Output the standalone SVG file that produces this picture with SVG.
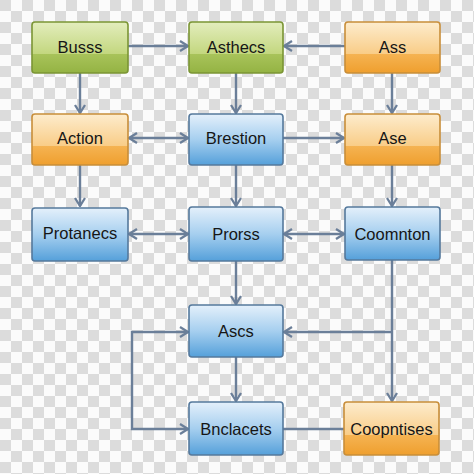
<svg xmlns="http://www.w3.org/2000/svg" width="474" height="474" viewBox="0 0 474 474">
<defs>
<pattern id="chk" x="0" y="0" width="22" height="22" patternUnits="userSpaceOnUse">
<rect width="22" height="22" fill="#fbfbfb"/>
<rect width="11" height="11" fill="#dcdcdc"/>
<rect x="11" y="11" width="11" height="11" fill="#dcdcdc"/>
</pattern>
<linearGradient id="gGreen" x1="0" y1="0" x2="0" y2="1">
<stop offset="0" stop-color="#e3edbd"/>
<stop offset="0.62" stop-color="#c3d77f"/>
<stop offset="0.63" stop-color="#a8c35a"/>
<stop offset="1" stop-color="#94b343"/>
</linearGradient>
<linearGradient id="gOrange" x1="0" y1="0" x2="0" y2="1">
<stop offset="0" stop-color="#fdeccd"/>
<stop offset="0.62" stop-color="#f9cd88"/>
<stop offset="0.63" stop-color="#f5b352"/>
<stop offset="1" stop-color="#ef9f2e"/>
</linearGradient>
<linearGradient id="gBlue" x1="0" y1="0" x2="0" y2="1">
<stop offset="0" stop-color="#e4f0fb"/>
<stop offset="0.5" stop-color="#a6cfef"/>
<stop offset="1" stop-color="#55a0da"/>
</linearGradient>
<marker id="arr" viewBox="0 0 10 12" refX="9" refY="6" markerWidth="10" markerHeight="12" markerUnits="userSpaceOnUse" orient="auto-start-reverse">
<path d="M1,1 L9,6 L1,11" fill="none" stroke="#6b7f99" stroke-width="2.3" stroke-linejoin="miter"/>
</marker>
</defs>
<style>
.green{fill:url(#gGreen);stroke:#7b9535;stroke-width:1.6}
.orange{fill:url(#gOrange);stroke:#c88e3a;stroke-width:1.6}
.blue{fill:url(#gBlue);stroke:#55799c;stroke-width:1.6}
text{font-family:"Liberation Sans",Arial,sans-serif;font-size:16.5px;fill:#161616;text-anchor:middle}
.c{fill:none;stroke:#6b7f99;stroke-width:2.4}
.a{marker-end:url(#arr)}
.b{marker-start:url(#arr);marker-end:url(#arr)}
</style>
<rect width="474" height="474" fill="url(#chk)"/>
<g id="connectors">
<line class="c a" x1="128" y1="46" x2="188" y2="46"/>
<line class="c a" x1="345" y1="46" x2="284" y2="46"/>
<line class="c a" x1="80" y1="73" x2="80" y2="113"/>
<line class="c a" x1="236" y1="73" x2="236" y2="113"/>
<line class="c a" x1="392" y1="73" x2="392" y2="113"/>
<line class="c b" x1="129" y1="138" x2="188" y2="138"/>
<line class="c a" x1="283" y1="138" x2="344" y2="138"/>
<line class="c a" x1="80" y1="165" x2="80" y2="206"/>
<line class="c a" x1="236" y1="165" x2="236" y2="206"/>
<line class="c a" x1="392" y1="165" x2="392" y2="206"/>
<line class="c b" x1="129" y1="234" x2="188" y2="234"/>
<line class="c b" x1="284" y1="234" x2="344" y2="234"/>
<line class="c a" x1="236" y1="261" x2="236" y2="304"/>
<line class="c a" x1="392" y1="260" x2="392" y2="401"/>
<line class="c a" x1="392" y1="332" x2="284" y2="332"/>
<line class="c a" x1="236" y1="357" x2="236" y2="401"/>
<polyline class="c b" points="188,332 132,332 132,429 188,429"/>
<line class="c" x1="283" y1="429" x2="344" y2="429"/>
</g>
<g id="n-busss"><rect class="green" x="32" y="22" width="96" height="51" rx="3"/><text x="80" y="52.5">Busss</text></g>
<g id="n-asthecs"><rect class="green" x="189" y="22" width="94" height="51" rx="3"/><text x="236" y="52.5">Asthecs</text></g>
<g id="n-ass"><rect class="orange" x="345" y="22" width="95" height="51" rx="3"/><text x="392.5" y="52.5">Ass</text></g>
<g id="n-action"><rect class="orange" x="32" y="114" width="96" height="51" rx="3"/><text x="80" y="144">Action</text></g>
<g id="n-brestion"><rect class="blue" x="189" y="114" width="94" height="51" rx="3"/><text x="236" y="144">Brestion</text></g>
<g id="n-ase"><rect class="orange" x="345" y="114" width="95" height="51" rx="3"/><text x="392.5" y="144">Ase</text></g>
<g id="n-protanecs"><rect class="blue" x="32" y="208" width="96" height="53" rx="3"/><text x="80" y="239">Protanecs</text></g>
<g id="n-prorss"><rect class="blue" x="189" y="207" width="94" height="54" rx="3"/><text x="236" y="240">Prorss</text></g>
<g id="n-coomnton"><rect class="blue" x="345" y="207" width="95" height="53" rx="3"/><text x="392.5" y="240">Coomnton</text></g>
<g id="n-ascs"><rect class="blue" x="189" y="305" width="94" height="52" rx="3"/><text x="236" y="337">Ascs</text></g>
<g id="n-bnclacets"><rect class="blue" x="189" y="402" width="94" height="53" rx="3"/><text x="236" y="434.5">Bnclacets</text></g>
<g id="n-coopntises"><rect class="orange" x="344" y="402" width="95" height="53" rx="3"/><text x="391.5" y="434.5">Coopntises</text></g>
</svg>
